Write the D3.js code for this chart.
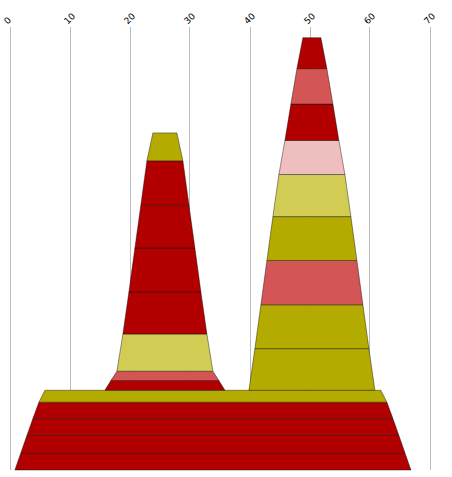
<!DOCTYPE html>
<html>
<head>
<meta charset="utf-8">
<script src="https://cdn.jsdelivr.net/npm/d3@7"></script>
<style>
  body { margin: 0; background: #fff; }
  svg { display: block; }
</style>
</head>
<body>
<div id="chart"></div>
<script>
// x ticks along the top
const xTicks = [0, 10, 20, 30, 40, 50, 60, 70];

// each stack: base extent on the x axis, then layer heights (bottom to top) and layer colours
const stackNames = ["base", "left", "right"];
const stackStarts = [0.9, 15.9, 39.9];
const stackEnds = [66.9, 35.9, 60.9];
const stackOn = [null, "base", "base"];

const baseHeights = [3.9, 3.9, 3.8, 3.7, 2.7];
const baseColors = ["red", "red", "red", "red", "olive"];

const leftHeights = [2.2, 2.1, 8.4, 9.5, 9.9, 9.8, 9.9, 6.3];
const leftColors = ["red", "lightred", "lightolive", "red", "red", "red", "red", "olive"];

const rightHeights = [9.4, 9.9, 10.0, 9.9, 9.5, 7.7, 8.2, 8.0, 7.0];
const rightColors = ["olive", "olive", "lightred", "olive", "lightolive", "pink", "red", "lightred", "red"];

const palette = {
  red: "#b20000",
  lightred: "#d35555",
  pink: "#efbfbf",
  olive: "#b3ab00",
  lightolive: "#d2cc55"
};

const width = 452, height = 477;

const x = d3.scaleLinear().domain([0, 70]).range([9.5, 429.5]);
const y = d3.scaleLinear().domain([0, 100]).range([470, 27]);

const svg = d3.select("#chart").append("svg")
  .attr("width", width)
  .attr("height", height);

// grid lines
svg.append("g")
  .selectAll("line")
  .data(xTicks)
  .join("line")
  .attr("x1", d => Math.round(x(d)) + 0.5)
  .attr("x2", d => Math.round(x(d)) + 0.5)
  .attr("y1", y(100))
  .attr("y2", y(0))
  .attr("stroke", "#bdbdbd")
  .attr("stroke-width", 1);

// rotated tick labels
svg.append("g")
  .selectAll("text")
  .data(xTicks)
  .join("text")
  .attr("transform", d => `translate(${x(d) - 1.7},24.8) rotate(-45)`)
  .attr("font-family", "DejaVu Sans, sans-serif")
  .attr("font-size", 9)
  .attr("fill", "#000")
  .text(d => d);

// build the layers of every stack
const heightsByStack = { base: baseHeights, left: leftHeights, right: rightHeights };
const colorsByStack = { base: baseColors, left: leftColors, right: rightColors };
const topOf = {};
const layers = [];

stackNames.forEach((name, s) => {
  let bottom = stackOn[s] ? topOf[stackOn[s]] : 0;
  heightsByStack[name].forEach((h, i) => {
    layers.push({
      y0: bottom,
      y1: bottom + h,
      // every layer steps in by one unit on each side
      l0: stackStarts[s] + i,
      r0: stackEnds[s] - i,
      l1: stackStarts[s] + i + 1,
      r1: stackEnds[s] - i - 1,
      color: palette[colorsByStack[name][i]]
    });
    bottom += h;
  });
  topOf[name] = bottom;
});

svg.append("g")
  .selectAll("path")
  .data(layers)
  .join("path")
  .attr("d", d => `M${x(d.l0)},${y(d.y0)}L${x(d.r0)},${y(d.y0)}L${x(d.r1)},${y(d.y1)}L${x(d.l1)},${y(d.y1)}Z`)
  .attr("fill", d => d.color)
  .attr("stroke", "#000")
  .attr("stroke-opacity", 0.4)
  .attr("stroke-width", 1);
</script>
</body>
</html>
